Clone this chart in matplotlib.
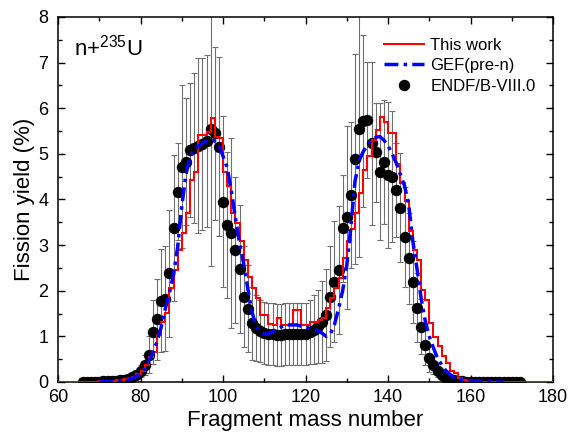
import numpy as np
import matplotlib
matplotlib.use("Agg")
import matplotlib.pyplot as plt
from matplotlib.ticker import MultipleLocator

plt.rcParams['font.family'] = ['Liberation Sans', 'DejaVu Sans']
plt.rcParams['mathtext.fontset'] = 'custom'
plt.rcParams['mathtext.rm'] = 'Liberation Sans'

# ENDF/B-VIII.0 yields and uncertainties, A = 66..172
endf_mass = np.arange(66, 173)
endf_yield = [
    0.003, 0.004, 0.006, 0.008, 0.010, 0.013, 0.017, 0.022, 0.030, 0.040,   # 66-75
    0.050, 0.070, 0.100, 0.150, 0.240, 0.380, 0.600, 1.090, 1.370, 1.780,   # 76-85
    1.820, 2.380, 3.370, 4.170, 4.720, 4.830, 5.090, 5.130, 5.180, 5.220,   # 86-95
    5.280, 5.550, 5.450, 5.160, 3.950, 3.450, 3.260, 2.900, 2.470, 1.870,   # 96-105
    1.610, 1.290, 1.180, 1.120, 1.080, 1.060, 1.050, 1.040, 1.040, 1.050,   # 106-115
    1.050, 1.060, 1.060, 1.060, 1.060, 1.100, 1.150, 1.220, 1.320, 1.470,   # 116-125
    1.870, 2.200, 2.460, 3.370, 3.610, 4.100, 4.880, 5.540, 5.720, 5.750,   # 126-135
    5.230, 5.030, 4.610, 4.830, 4.540, 4.500, 4.200, 3.820, 3.180, 2.710,   # 136-145
    2.200, 1.630, 1.210, 0.820, 0.520, 0.370, 0.250, 0.150, 0.090, 0.060,   # 146-155
    0.040, 0.025, 0.015, 0.010, 0.008, 0.006, 0.005, 0.004, 0.003, 0.003,   # 156-165
    0.002, 0.002, 0.002, 0.001, 0.001, 0.001, 0.001,                        # 166-172
]
endf_err = [
    0.002, 0.002, 0.003, 0.004, 0.005, 0.007, 0.009, 0.011, 0.015, 0.020,   # 66-75
    0.025, 0.040, 0.060, 0.090, 0.140, 0.220, 0.400, 0.700, 0.880, 1.130,   # 76-85
    1.150, 1.400, 1.600, 1.060, 1.790, 1.390, 1.470, 1.650, 1.920, 1.880,   # 86-95
    1.890, 3.000, 1.900, 1.960, 1.870, 1.600, 2.080, 1.600, 1.400, 1.100,   # 96-105
    0.950, 0.800, 0.720, 0.680, 0.680, 0.680, 0.680, 0.680, 0.680, 0.680,   # 106-115
    0.680, 0.680, 0.680, 0.680, 0.680, 0.700, 0.750, 0.800, 0.900, 1.000,   # 116-125
    1.100, 1.320, 1.400, 1.170, 2.000, 1.600, 2.300, 2.800, 1.890, 1.270,   # 126-135
    1.790, 1.080, 1.500, 1.360, 1.600, 1.430, 1.030, 1.200, 1.100, 1.000,   # 136-145
    0.900, 0.750, 0.600, 0.450, 0.300, 0.200, 0.140, 0.090, 0.050, 0.035,   # 146-155
    0.025, 0.015, 0.010, 0.006, 0.005, 0.004, 0.003, 0.003, 0.002, 0.002,   # 156-165
    0.001, 0.001, 0.001, 0.001, 0.001, 0.001, 0.001,                        # 166-172
]

# This work: histogram bins [A, A+1], A = 60..179
work_edges = np.arange(60, 181)
work_yield = [
    0, 0, 0, 0, 0, 0, 0.005, 0.005, 0.010, 0.010,                           # 60-69
    0.015, 0.020, 0.025, 0.030, 0.040, 0.050, 0.060, 0.080, 0.120, 0.170,   # 70-79
    0.250, 0.380, 0.550, 0.660, 1.040, 1.320, 1.520, 2.050, 2.460, 2.890,   # 80-89
    3.260, 3.700, 4.430, 4.610, 5.420, 5.420, 5.490, 5.780, 5.380, 5.340,   # 90-99
    4.600, 4.300, 3.700, 3.480, 3.080, 2.680, 2.310, 2.050, 1.830, 1.470,   # 100-109
    1.470, 1.280, 1.250, 1.400, 1.250, 1.250, 1.250, 1.580, 1.580, 1.250,   # 110-119
    1.250, 1.320, 1.320, 1.350, 1.400, 1.620, 1.830, 2.050, 2.270, 2.710,   # 120-129
    3.080, 3.350, 3.700, 4.140, 4.650, 4.960, 5.310, 5.520, 5.800, 5.690,   # 130-139
    5.450, 5.450, 4.780, 4.360, 3.960, 3.300, 2.900, 2.680, 2.020, 1.800,   # 140-149
    1.290, 0.990, 0.780, 0.560, 0.410, 0.230, 0.190, 0.080, 0.050, 0.030,   # 150-159
    0.020, 0.015, 0.010, 0.010, 0.005, 0.005, 0.005, 0, 0, 0,               # 160-169
    0, 0, 0, 0, 0, 0, 0, 0, 0, 0,                                           # 170-179
]

# GEF (pre-neutron)
gef_mass = [70, 72, 74, 76, 78, 79, 80, 81, 82, 83, 84, 85, 86, 87, 88, 89,
            90, 91, 92, 93, 94, 95, 96, 97, 98, 99, 100, 101, 102, 103, 104,
            105, 106, 107, 108, 109, 110, 111, 112, 113, 114, 115, 116, 117,
            118, 119, 120, 121, 122, 123, 124, 125, 126, 127, 128, 129, 130,
            131, 132, 133, 134, 135, 136, 137, 138, 139, 140, 141, 142, 143,
            144, 145, 146, 147, 148, 149, 150, 151, 152, 153, 154, 155, 156,
            157, 158, 160, 162, 165, 168]
gef_yield = [0.0, 0.01, 0.02, 0.04, 0.08, 0.12, 0.18, 0.28, 0.45, 0.65, 0.88,
             1.2, 1.6, 1.95, 2.35, 2.95, 3.85, 4.55, 4.92, 5.08, 5.17, 5.23,
             5.28, 5.31, 5.28, 5.2, 4.95, 4.7, 4.2, 3.6, 3.05, 2.6, 2.05, 1.55,
             1.22, 1.1, 1.05, 1.05, 1.1, 1.15, 1.2, 1.25, 1.25, 1.25, 1.25,
             1.22, 1.2, 1.18, 1.15, 1.12, 1.07, 1.0, 1.05, 1.25, 1.6, 2.0, 2.55,
             3.4, 4.4, 4.85, 5.05, 5.2, 5.3, 5.36, 5.38, 5.3, 5.18, 5.0, 4.8,
             4.55, 4.3, 3.9, 3.1, 2.5, 1.85, 1.35, 1.0, 0.75, 0.52, 0.38, 0.25,
             0.17, 0.1, 0.07, 0.05, 0.03, 0.02, 0.01, 0.0]

fig = plt.figure(figsize=(5.71, 4.37), dpi=100)
ax = fig.add_axes([0.1016, 0.1259, 0.8669, 0.8352])

ax.errorbar(endf_mass, endf_yield, yerr=endf_err, fmt='none', ecolor='#6e6e6e',
            elinewidth=0.8, capsize=2.2, capthick=0.8, zorder=1)
ax.plot(endf_mass, endf_yield, 'o', color='black', markersize=7.2, zorder=2,
        label='ENDF/B-VIII.0')
ax.stairs(work_yield, work_edges, color='red', linewidth=1.5, zorder=3,
          label='This work')
ax.plot(gef_mass, gef_yield, color='blue', linewidth=2.5,
        linestyle=(0, (4, 1.5, 1, 1.5)), zorder=4, label='GEF(pre-n)')

ax.set_xlim(60, 180)
ax.set_ylim(0, 8)
ax.xaxis.set_major_locator(MultipleLocator(20))
ax.xaxis.set_minor_locator(MultipleLocator(10))
ax.yaxis.set_major_locator(MultipleLocator(1))
ax.yaxis.set_minor_locator(MultipleLocator(0.5))
ax.tick_params(which='both', direction='in', top=True, right=True,
               labelsize=13, width=1.0)
ax.tick_params(which='major', length=5)
ax.tick_params(which='minor', length=3)
ax.tick_params(axis='x', pad=5)
ax.tick_params(axis='y', pad=7)
for s in ax.spines.values():
    s.set_linewidth(1.1)

ax.set_xlabel('Fragment mass number', fontsize=16, labelpad=3)
ax.set_ylabel('Fission yield (%)', fontsize=16, labelpad=2)

ax.text(0.033, 0.895, r'n+$^{235}$U', transform=ax.transAxes, fontsize=16,
        ha='left', va='baseline')

h, l = ax.get_legend_handles_labels()
order = [l.index('This work'), l.index('GEF(pre-n)'), l.index('ENDF/B-VIII.0')]
ax.legend([h[i] for i in order], [l[i] for i in order], loc='upper right',
          bbox_to_anchor=(0.985, 0.97), frameon=False, fontsize=12,
          handlelength=2.4, handletextpad=0.4, labelspacing=0.32,
          borderaxespad=0.2)

fig.savefig('out.png', dpi=100)
